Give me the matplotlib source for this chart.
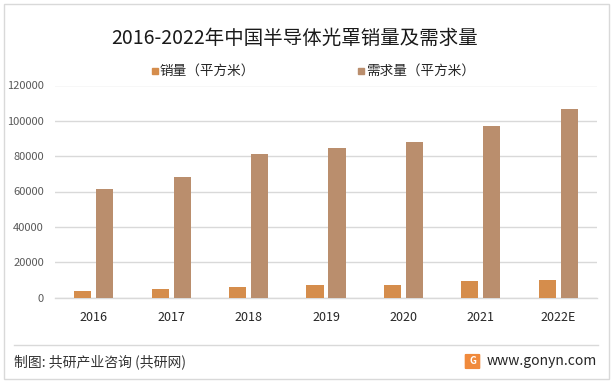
import matplotlib
matplotlib.use("Agg")
import matplotlib.pyplot as plt
from matplotlib.patches import Rectangle, FancyBboxPatch
from matplotlib.lines import Line2D
import numpy as np

plt.rcParams['font.family'] = ['Noto Sans CJK SC', 'DejaVu Sans']

categories = ["2016", "2017", "2018", "2019", "2020", "2021", "2022E"]
sales = [3900, 4900, 6100, 6900, 7300, 9100, 10000]
demand = [61400, 68200, 81200, 84600, 88000, 96900, 106800]
yticks = [0, 20000, 40000, 60000, 80000, 100000, 120000]

title = "2016-2022年中国半导体光罩销量及需求量"
label_sales = "销量（平方米）"
label_demand = "需求量（平方米）"
source = "制图: 共研产业咨询 (共研网)"
site = "www.gonyn.com"

c_sales = "#D58D4C"
c_demand = "#BA8E6D"

W, H = 614, 385
fig = plt.figure(figsize=(W / 100, H / 100), dpi=100)

def fx(px):
    return px / W

def fy(py):
    return 1 - py / H

# outer border
fig.patches.append(Rectangle((fx(4), fy(379)), fx(609) - fx(4), fy(4) - fy(379),
                             transform=fig.transFigure, fill=False,
                             edgecolor="#D9D9D9", linewidth=1.0))

ax = fig.add_axes([fx(55), fy(297.5), fx(597) - fx(55), fy(85.5) - fy(297.5)])
x = np.arange(len(categories))
bw = 0.22
off = 0.142
ax.bar(x - off, sales, bw, color=c_sales, zorder=3)
ax.bar(x + off, demand, bw, color=c_demand, zorder=3)

ax.set_xlim(-0.5, len(categories) - 0.5)
ax.set_ylim(0, 120000)
ax.set_yticks(yticks)
ax.set_yticklabels([str(v) for v in yticks], fontsize=8, color="#595959")
ax.set_xticks(x)
ax.set_xticklabels(categories, fontsize=9, color="#262626")
ax.tick_params(axis="y", length=0, pad=8)
ax.tick_params(axis="x", length=0, pad=10)
ax.grid(axis="y", color="#D9D9D9", linewidth=1.0, zorder=0)
for s in ["top", "right", "left"]:
    ax.spines[s].set_visible(False)
ax.spines["bottom"].set_color("#D9D9D9")
ax.spines["bottom"].set_linewidth(1.0)

fig.text(fx(294.5), fy(38), title, ha="center", va="center", fontsize=14, color="#1a1a1a")

# legend (manual)
sq = 6
fig.patches.append(Rectangle((fx(152), fy(71 + sq / 2)), fx(sq), sq / H,
                             transform=fig.transFigure, color=c_sales))
fig.text(fx(160), fy(71), label_sales, ha="left", va="center", fontsize=9.8, color="#262626")
fig.patches.append(Rectangle((fx(358), fy(71 + sq / 2)), fx(sq), sq / H,
                             transform=fig.transFigure, color=c_demand))
fig.text(fx(366), fy(71), label_demand, ha="left", va="center", fontsize=9.8, color="#262626")

# separator
fig.add_artist(Line2D([fx(14), fx(598)], [fy(345), fy(345)], transform=fig.transFigure,
                      color="#D9D9D9", linewidth=1.0))

fig.text(fx(14), fy(362), source, ha="left", va="center", fontsize=10, color="#333333")

# logo
fig.patches.append(FancyBboxPatch((fx(466), fy(368)), fx(13), 13 / H,
                                  boxstyle="round,pad=0.001",
                                  transform=fig.transFigure, color="#F08A3C"))
fig.text(fx(472.5), fy(361.5), "G", ha="center", va="center", fontsize=7,
         color="white", fontweight="bold")
fig.text(fx(487), fy(361), site, ha="left", va="center", fontsize=10, color="#262626")

fig.savefig("out.png", dpi=100)
